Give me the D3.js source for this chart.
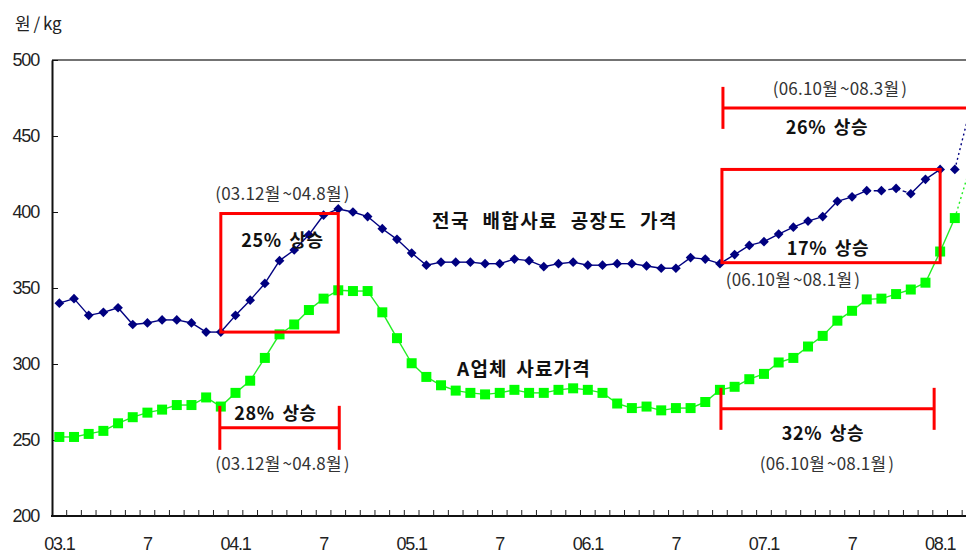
<!DOCTYPE html>
<html>
<head>
<meta charset="utf-8">
<script src="https://cdn.jsdelivr.net/npm/d3@7"></script>
<style>
  html, body { margin: 0; padding: 0; background: #fff; }
  svg { display: block; }
  .tick text { font-family: "Liberation Sans", Arial, sans-serif; }
</style>
</head>
<body>
<svg id="chart" width="966" height="553"></svg>
<script>
// Monthly feed prices (원/kg), 2003.1 – 2008.3
const years = ["03", "04", "05", "06", "07", "08"];
const months = years.flatMap((yy, k) => d3.range(1, k === 5 ? 4 : 13).map(m => `${yy}.${m}`));

// 전국 배합사료 공장도 가격
const nationalPrice = [
  340, 343, 332, 334, 337, 326, 327, 329, 329, 327, 321, 321,
  332, 342, 353, 368, 375, 385, 398, 402, 400, 397, 389, 382,
  373, 365, 367, 367, 367, 366, 366, 369, 368, 364, 366, 367,
  365, 365, 366, 366, 364.5, 363, 363, 370, 369, 366, 372, 378,
  380.5, 385.5, 390, 394, 397, 407, 410, 414, 414, 415.5, 412, 421.5,
  428, 428, 466
];

// A업체 사료가격
const companyPrice = [
  252, 252, 254, 256, 261, 265, 268, 270, 273, 273, 278, 272,
  281, 289, 304, 319.5, 326, 335.5, 343, 348.5, 348, 348, 334, 317,
  300.5, 291.5, 286, 282.5, 281, 280, 281, 283, 281, 281, 283, 284,
  283, 281, 274, 271, 272, 269.5, 271, 271, 275, 283, 285, 290,
  293.5, 301, 304, 311.5, 318.5, 328.5, 335, 342.5, 343, 346, 349, 353.5,
  374, 396, 428
];

const xTickLabels = ["03.1", "7", "04.1", "7", "05.1", "7", "06.1", "7", "07.1", "7", "08.1"];
const yTicks = [200, 250, 300, 350, 400, 450, 500];

(function draw() {
  const svg = d3.select("#chart");
  const W = 966;
  const plotL = 52, plotT = 60, plotB = 516, step = 14.68;

  const x = d3.scaleBand().domain(months).range([plotL, plotL + months.length * step]).padding(0);
  const xc = i => x(months[i]) + x.bandwidth() / 2;
  const y = d3.scaleLinear().domain([200, 500]).range([plotB, plotT]);

  const KR = "'Noto Sans CJK KR', 'Noto Sans', sans-serif";

  // frame: top border
  svg.append("line")
    .attr("x1", plotL).attr("x2", W).attr("y1", plotT).attr("y2", plotT)
    .attr("stroke", "#444").attr("stroke-width", 1.5);

  // y axis
  const yAxis = svg.append("g")
    .attr("transform", `translate(${plotL},0)`)
    .call(d3.axisLeft(y).tickValues(yTicks).tickSizeInner(-6).tickSizeOuter(0).tickPadding(13));
  yAxis.select(".domain").attr("stroke", "#111").attr("stroke-width", 2);
  yAxis.selectAll(".tick line").attr("stroke", "#111").attr("stroke-width", 1);
  yAxis.selectAll(".tick text")
    .attr("font-size", 18).attr("fill", "#222").attr("letter-spacing", -1.2);

  // x axis
  const labelIdx = xTickLabels.map((_, k) => k * 6);
  const xAxis = svg.append("g")
    .attr("transform", `translate(0,${plotB})`)
    .call(d3.axisBottom(x).tickValues(labelIdx.map(i => months[i]))
      .tickFormat((d, k) => xTickLabels[k]).tickSize(0).tickPadding(21));
  xAxis.select(".domain").remove();
  xAxis.selectAll(".tick text")
    .attr("font-size", 18).attr("fill", "#222").attr("letter-spacing", -1.2);
  svg.append("line")
    .attr("x1", plotL - 1).attr("x2", W).attr("y1", plotB).attr("y2", plotB)
    .attr("stroke", "#111").attr("stroke-width", 2);
  svg.append("g").selectAll("line")
    .data(months.slice(1))
    .join("line")
    .attr("x1", d => x(d)).attr("x2", d => x(d))
    .attr("y1", plotB).attr("y2", plotB - 6)
    .attr("stroke", "#222").attr("stroke-width", 1);

  // unit label
  svg.append("text")
    .attr("x", 15).attr("y", 30)
    .attr("font-family", KR).attr("font-size", 17).attr("fill", "#222")
    .attr("word-spacing", -1)
    .text("원 / kg");

  // series lines, drawn segment by segment so the tail can change style
  function drawSeries(values, color, width, styleOf) {
    const g = svg.append("g");
    for (let i = 0; i < values.length - 1; i++) {
      const s = styleOf(i);
      if (s === "none") continue;
      g.append("line")
        .attr("x1", xc(i)).attr("y1", y(values[i]))
        .attr("x2", xc(i + 1)).attr("y2", y(values[i + 1]))
        .attr("stroke", color).attr("stroke-width", width)
        .attr("stroke-dasharray", s === "dash" ? "4,3" : s === "dot" ? "2,3" : null);
    }
    return g;
  }

  drawSeries(companyPrice, "#22ee22", 1.4, i => i >= 61 ? "dot" : "solid");
  drawSeries(nationalPrice, "#000080", 1.4,
    i => i >= 61 ? "dot" : (i >= 55 && i <= 57 ? "dash" : (i === 60 ? "none" : "solid")));

  // markers
  svg.append("g").selectAll("rect")
    .data(companyPrice.slice(0, 62))
    .join("rect")
    .attr("x", (d, i) => xc(i) - 5).attr("y", d => y(d) - 5)
    .attr("width", 10).attr("height", 10)
    .attr("fill", "#00ff00");

  const diamond = d3.symbol().type(d3.symbolDiamond2).size(60);
  svg.append("g").selectAll("path")
    .data(nationalPrice.slice(0, 62))
    .join("path")
    .attr("d", diamond)
    .attr("transform", (d, i) => `translate(${xc(i)},${y(d)})`)
    .attr("fill", "#000080");

  // annotations
  const ann = svg.append("g").attr("fill", "none").attr("stroke", "#ff0000").attr("stroke-width", 3);

  // box: 03.12 ~ 04.8 on the national price
  {
    const x0 = xc(11), x1 = xc(19);
    const y0 = y(399), y1 = y(nationalPrice[11]);
    ann.append("rect").attr("x", x0).attr("y", y0).attr("width", x1 - x0).attr("height", y1 - y0);
  }
  // box: 06.10 ~ 08.1 on the national price
  {
    const x0 = xc(45) + 2, x1 = xc(60);
    const y0 = y(nationalPrice[60]), y1 = y(nationalPrice[45]) - 1;
    ann.append("rect").attr("x", x0).attr("y", y0).attr("width", x1 - x0).attr("height", y1 - y0);
  }
  function bracket(x0, x1, yy, half, rightTick) {
    ann.append("line").attr("x1", x0).attr("x2", x1).attr("y1", yy).attr("y2", yy);
    ann.append("line").attr("x1", x0).attr("x2", x0).attr("y1", yy - half).attr("y2", yy + half);
    if (rightTick) ann.append("line").attr("x1", x1).attr("x2", x1).attr("y1", yy - half).attr("y2", yy + half);
  }
  bracket(xc(11) - 1, xc(19) + 1, y(258), 22, true);
  bracket(xc(45) + 1, xc(60) - 6, y(270.5), 21, true);
  bracket(xc(45) + 3, W + 5, y(468.5), 21, false);

  function label(tx, ty, txt, bold) {
    svg.append("text")
      .attr("x", tx).attr("y", ty)
      .attr("text-anchor", "middle").attr("dominant-baseline", "central")
      .attr("font-family", KR)
      .attr("font-size", bold ? 18 : 17)
      .attr("font-weight", bold ? 700 : 400)
      .attr("letter-spacing", bold ? 0.6 : 0.2)
      .attr("word-spacing", bold ? 3 : -2)
      .attr("fill", bold ? "#111" : "#333")
      .text(txt);
  }
  const mid = (a, b) => (xc(a) + xc(b)) / 2;

  label(mid(11, 19) + 3, 192, "(03.12월 ~04.8월 )", false);
  label(mid(11, 19) + 3, 239, "25% 상승", true);
  label(mid(11, 19) - 4, 412, "28% 상승", true);
  label(mid(11, 19) + 3, 462, "(03.12월 ~04.8월 )", false);

  label(840, 87, "(06.10월 ~08.3월 )", false);
  label(827, 126, "26% 상승", true);
  label(828, 247, "17% 상승", true);
  label(793, 278, "(06.10월 ~08.1월 )", false);
  label(823, 432, "32% 상승", true);
  label(827, 462, "(06.10월 ~08.1월 )", false);

  // series names
  svg.append("text")
    .attr("x", 432).attr("y", 219).attr("dominant-baseline", "central")
    .attr("font-family", KR).attr("font-size", 19).attr("font-weight", 700)
    .attr("word-spacing", 7).attr("letter-spacing", 1.4).attr("fill", "#111")
    .text("전국 배합사료 공장도 가격");
  svg.append("text")
    .attr("x", 457).attr("y", 367).attr("dominant-baseline", "central")
    .attr("font-family", KR).attr("font-size", 19).attr("font-weight", 700)
    .attr("word-spacing", 3).attr("letter-spacing", 1.2).attr("fill", "#111")
    .text("A업체 사료가격");
})();
</script>
</body>
</html>
